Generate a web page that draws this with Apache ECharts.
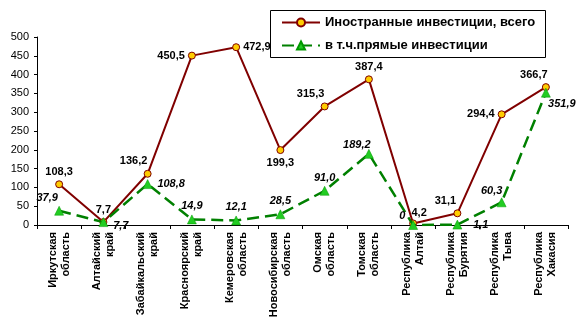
<!DOCTYPE html>
<html><head><meta charset="utf-8">
<script src="https://cdn.jsdelivr.net/npm/echarts@6/dist/echarts.min.js"></script>
<style>html,body{margin:0;padding:0;background:#fff}#c{width:588px;height:331px}</style>
</head><body><div id="c"></div>
<script>
const categories = ["Иркутская\nобласть","Алтайский\nкрай","Забайкальский\nкрай","Красноярский\nкрай","Кемеровская\nобласть","Новосибирская\nобласть","Омская\nобласть","Томская\nобласть","Республика\nАлтай","Республика\nБурятия","Республика\nТыва","Республика\nХакасия"];
const totalInvest = [108.3, 7.7, 136.2, 450.5, 472.9, 199.3, 315.3, 387.4, 4.2, 31.1, 294.4, 366.7];
const directInvest = [37.9, 7.7, 108.8, 14.9, 12.1, 28.5, 91.0, 189.2, 0, 1.1, 60.3, 351.9];
const yTicks = {min: 0, max: 500, interval: 50};
const seriesNames = ["Иностранные инвестиции, всего", "в т.ч.прямые инвестиции"];

// label placement (style only)
const totalPos = [
  {position:'top'},{position:'top'},{position:'top',offset:[-14,0]},{position:'left'},
  {position:'right'},{position:'bottom'},{position:'top',offset:[-14,0]},{position:'top'},
  {position:'top',offset:[6,2]},{position:'top',offset:[-12,0]},{position:'left'},{position:'top',offset:[-12,0]}
];
const directPos = [
  {position:'top',offset:[-12,0]},{position:'right',offset:[2,4]},{position:'right',offset:[2,0]},{position:'top'},
  {position:'top'},{position:'top'},{position:'top'},{position:'top',offset:[-12,4]},
  {position:'left',offset:[0,-9]},{position:'right',offset:[8,0]},{position:'top',offset:[-10,2]},{position:'bottom',offset:[16,-2]}
];
const fmt = v => v===0 ? '0' : v.toFixed(1).replace('.',',');

const chart = echarts.init(document.getElementById('c'));
chart.setOption({
  animation:false,
  backgroundColor:'#fff',
  textStyle:{fontFamily:'Arial, "Liberation Sans", sans-serif'},
  grid:{left:37,right:20,top:37,bottom:106,containLabel:false},
  graphic:[{
    type:'rect', left:270, top:10, z:100, silent:true,
    shape:{width:275,height:47},
    style:{fill:'#fff',stroke:'#000',lineWidth:1}
  }],
  legend:{
    orient:'vertical', left:271, top:11, z:200,
    padding:[5,4,5,10], itemGap:10, itemWidth:38, itemHeight:10,
    textStyle:{fontSize:13,fontWeight:'bold',color:'#000',fontFamily:'Arial, "Liberation Sans", sans-serif'},
    data:seriesNames
  },
  xAxis:{
    type:'category', data:categories, boundaryGap:true,
    axisLine:{lineStyle:{color:'#000'}},
    axisTick:{show:true,length:4,lineStyle:{color:'#000'}},
    axisLabel:{rotate:90,interval:0,fontSize:11,fontWeight:'bold',color:'#000',lineHeight:13,margin:7}
  },
  yAxis:{
    type:'value', min:yTicks.min, max:yTicks.max, interval:yTicks.interval,
    splitLine:{show:false},
    axisLine:{show:true,lineStyle:{color:'#000'}},
    axisTick:{show:true,length:3,lineStyle:{color:'#000'}},
    axisLabel:{fontSize:11,color:'#000',margin:8}
  },
  series:[
    {
      name:seriesNames[0], type:'line',
      data: totalInvest.map((v,i)=>({value:v,label:totalPos[i]})),
      lineStyle:{color:'#800000',width:2},
      itemStyle:{color:'#ffcc00',borderColor:'#800000',borderWidth:1},
      symbol:'circle', symbolSize:7,
      label:{show:true,formatter:p=>fmt(p.value),fontSize:11,fontWeight:'bold',color:'#000',distance:3},
      z:3
    },
    {
      name:seriesNames[1], type:'line',
      data: directInvest.map((v,i)=>({value:v,label:directPos[i]})),
      lineStyle:{color:'#008000',width:2.5,type:[12,6]},
      itemStyle:{color:'#22cc22',borderColor:'#009900',borderWidth:0.5},
      symbol:'triangle', symbolSize:9,
      label:{show:true,formatter:p=>fmt(p.value),fontSize:11,fontWeight:'bold',fontStyle:'italic',color:'#000',distance:3},
      z:4
    }
  ]
});
</script></body></html>
